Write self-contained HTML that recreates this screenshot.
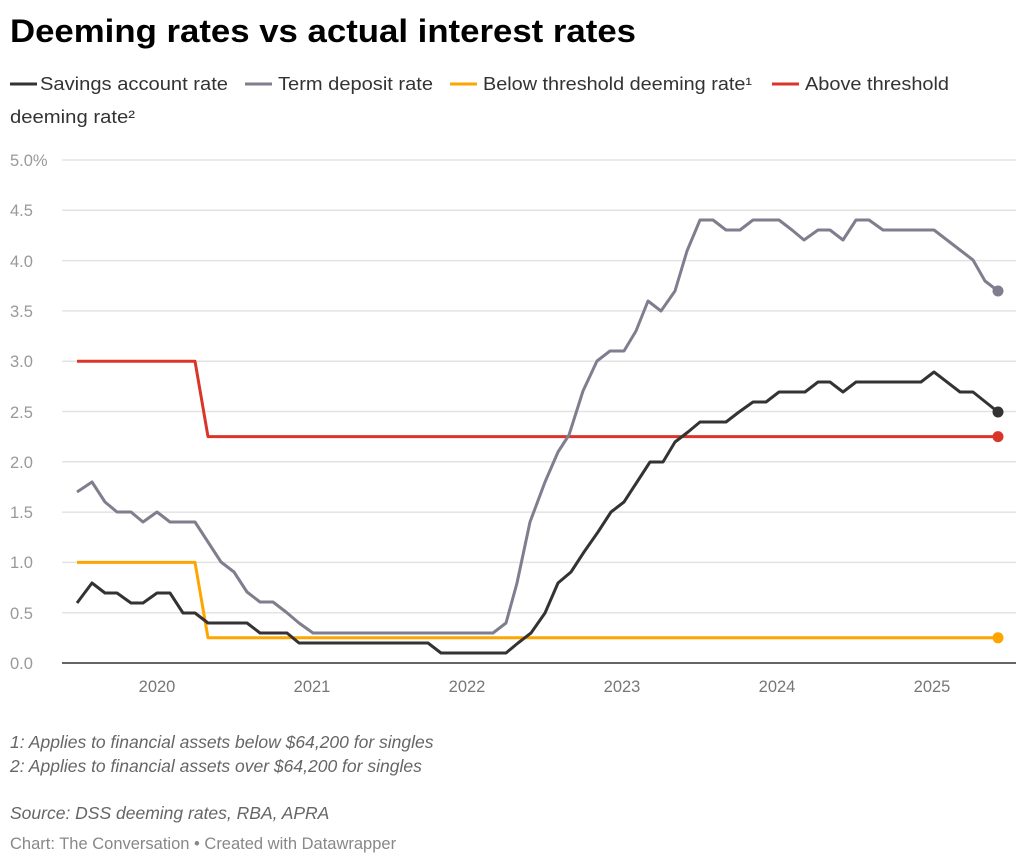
<!DOCTYPE html>
<html><head><meta charset="utf-8"><style>
html,body{margin:0;padding:0;background:#fff;}
svg{display:block;font-family:"Liberation Sans",Arial,sans-serif;}
</style></head><body>
<svg width="1024" height="863" viewBox="0 0 1024 863" xmlns="http://www.w3.org/2000/svg">
<text x="10" y="42" font-size="32" font-weight="bold" fill="#000" textLength="626" lengthAdjust="spacingAndGlyphs">Deeming rates vs actual interest rates</text>
<g font-size="18" fill="#333">
<line x1="10" y1="84" x2="37" y2="84" stroke="#333" stroke-width="3"/>
<text x="40" y="90" textLength="188" lengthAdjust="spacingAndGlyphs">Savings account rate</text>
<line x1="245" y1="84" x2="272" y2="84" stroke="#7e7e8f" stroke-width="3"/>
<text x="278" y="90" textLength="155" lengthAdjust="spacingAndGlyphs">Term deposit rate</text>
<line x1="450" y1="84" x2="477" y2="84" stroke="#ffa500" stroke-width="3"/>
<text x="483" y="90" textLength="269" lengthAdjust="spacingAndGlyphs">Below threshold deeming rate¹</text>
<line x1="772" y1="84" x2="799" y2="84" stroke="#d93529" stroke-width="3"/>
<text x="805" y="90" textLength="144" lengthAdjust="spacingAndGlyphs">Above threshold</text>
<text x="10" y="123" textLength="125" lengthAdjust="spacingAndGlyphs">deeming rate²</text>
</g>
<g stroke="#e3e3e3" stroke-width="1.5">
<line x1="62" x2="1016" y1="160" y2="160"/><line x1="62" x2="1016" y1="210.3" y2="210.3"/>
<line x1="62" x2="1016" y1="260.6" y2="260.6"/><line x1="62" x2="1016" y1="310.9" y2="310.9"/>
<line x1="62" x2="1016" y1="361.2" y2="361.2"/><line x1="62" x2="1016" y1="411.5" y2="411.5"/>
<line x1="62" x2="1016" y1="461.8" y2="461.8"/><line x1="62" x2="1016" y1="512.1" y2="512.1"/>
<line x1="62" x2="1016" y1="562.4" y2="562.4"/><line x1="62" x2="1016" y1="612.7" y2="612.7"/>
</g>
<line x1="62" x2="1016" y1="663" y2="663" stroke="#333" stroke-width="1.5"/>
<g font-size="16.5" fill="#999">
<text x="10" y="166">5.0%</text><text x="10" y="216">4.5</text><text x="10" y="267">4.0</text>
<text x="10" y="317">3.5</text><text x="10" y="367">3.0</text><text x="10" y="418">2.5</text>
<text x="10" y="468">2.0</text><text x="10" y="518">1.5</text><text x="10" y="568">1.0</text>
<text x="10" y="619">0.5</text><text x="10" y="669">0.0</text>
</g>
<g font-size="16.5" fill="#777" text-anchor="middle">
<text x="157" y="692">2020</text><text x="312" y="692">2021</text><text x="467" y="692">2022</text>
<text x="622" y="692">2023</text><text x="777" y="692">2024</text><text x="932" y="692">2025</text>
</g>
<g fill="none" stroke-width="3" stroke-linejoin="round">
<polyline stroke="#ffa500" points="77,562.4 195,562.4 208,637.8 998,637.8"/>
<polyline stroke="#d93529" points="77,361.2 195,361.2 208,436.6 998,436.6"/>
<polyline stroke="#7e7e8f" points="77,492 92,482 105,502 117,512 131,512 143,522 157,512 170,522 195,522 208,542 221,562 234,572 247,592 260,602 273,602 286,612 299,623 313,633 493,633 506,623 517,583 530,522 545,482 558,452 569,435 583,391 597,361 610,351 624,351 636,331 648,301 661,311 675,291 687,251 700,220 713,220 726,230 740,230 753,220 779,220 792,230 804,240 818,230 830,230 843,240 856,220 869,220 883,230 934,230 960,250 973,260 985,281 998,291"/>
<polyline stroke="#333" points="77,603 92,583 105,593 117,593 131,603 143,603 157,593 170,593 183,613 195,613 208,623 247,623 260,633 287,633 299,643 428,643 441,653 506,653 518,643 531,633 545,613 558,583 571,572 584,552 598,532 611,512 624,502 637,482 650,462 663,462 675,442 688,432 700,422 726,422 739,412 753,402 766,402 779,392 805,392 818,382 830,382 843,392 856,382 921,382 934,372 960,392 973,392 998,412"/>
</g>
<circle cx="998" cy="291" r="5.5" fill="#7e7e8f"/>
<circle cx="998" cy="412" r="5.5" fill="#333"/>
<circle cx="998" cy="436.6" r="5.5" fill="#d93529"/>
<circle cx="998" cy="637.8" r="5.5" fill="#ffa500"/>
<g font-size="17.5" font-style="italic" fill="#666">
<text x="10" y="748">1: Applies to financial assets below $64,200 for singles</text>
<text x="10" y="772">2: Applies to financial assets over $64,200 for singles</text>
<text x="10" y="819">Source: DSS deeming rates, RBA, APRA</text>
</g>
<text x="10" y="849" font-size="16.5" fill="#888">Chart: The Conversation • Created with Datawrapper</text>
</svg>
</body></html>
